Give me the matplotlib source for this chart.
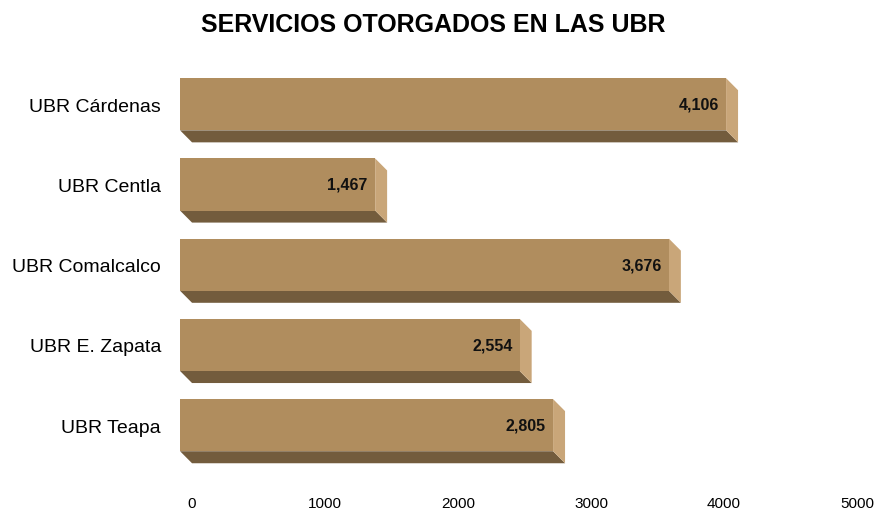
import matplotlib.pyplot as plt
from matplotlib.patches import Polygon, Rectangle

# datos del gráfico
categorias = ['UBR Cárdenas', 'UBR Centla', 'UBR Comalcalco', 'UBR E. Zapata', 'UBR Teapa']
servicios = [4106, 1467, 3676, 2554, 2805]
ticks_x = [0, 1000, 2000, 3000, 4000, 5000]

plt.rcParams['font.family'] = ['Liberation Sans', 'DejaVu Sans']

COLOR_FRENTE = '#B08D5E'
COLOR_ABAJO = '#735C3D'
COLOR_LADO = '#C9A679'

DX = 90       # profundidad en unidades de datos (eje x)
DY = 0.15     # profundidad en unidades de categoría
ALTO = 0.65   # alto de la cara frontal

fig = plt.figure(figsize=(8.78, 5.10), dpi=100)
ax = fig.add_axes([0.196, 0.037, 0.78, 0.851])

for i, v in enumerate(servicios):
    top = i - ALTO / 2
    bot = i + ALTO / 2
    # cara inferior
    ax.add_patch(Polygon([(-DX, bot), (v - DX, bot), (v, bot + DY), (0, bot + DY)],
                         closed=True, facecolor=COLOR_ABAJO, edgecolor='none'))
    # cara lateral derecha
    ax.add_patch(Polygon([(v - DX, top), (v, top + DY), (v, bot + DY), (v - DX, bot)],
                         closed=True, facecolor=COLOR_LADO, edgecolor='none'))
    # cara frontal
    ax.add_patch(Rectangle((-DX, top), v, ALTO, facecolor=COLOR_FRENTE, edgecolor='none'))
    ax.text(v - DX - 55, i, f'{v:,}', ha='right', va='center',
            fontsize=11.5, fontweight='bold', color='#111111')

ax.set_xlim(-150, 5000)
ax.set_ylim(4.81, -0.6)
ax.set_xticks(ticks_x)
ax.set_xticklabels([str(t) for t in ticks_x], fontsize=11)
ax.set_yticks(range(len(categorias)))
ax.set_yticklabels(categorias, fontsize=14)
ax.tick_params(axis='both', length=0)
ax.tick_params(axis='y', pad=8)
ax.tick_params(axis='x', pad=4)
for s in ax.spines.values():
    s.set_visible(False)

fig.text(0.494, 0.951, 'SERVICIOS OTORGADOS EN LAS UBR', ha='center', va='center',
         fontsize=18, fontweight='bold')

fig.savefig('out.png', dpi=100)
